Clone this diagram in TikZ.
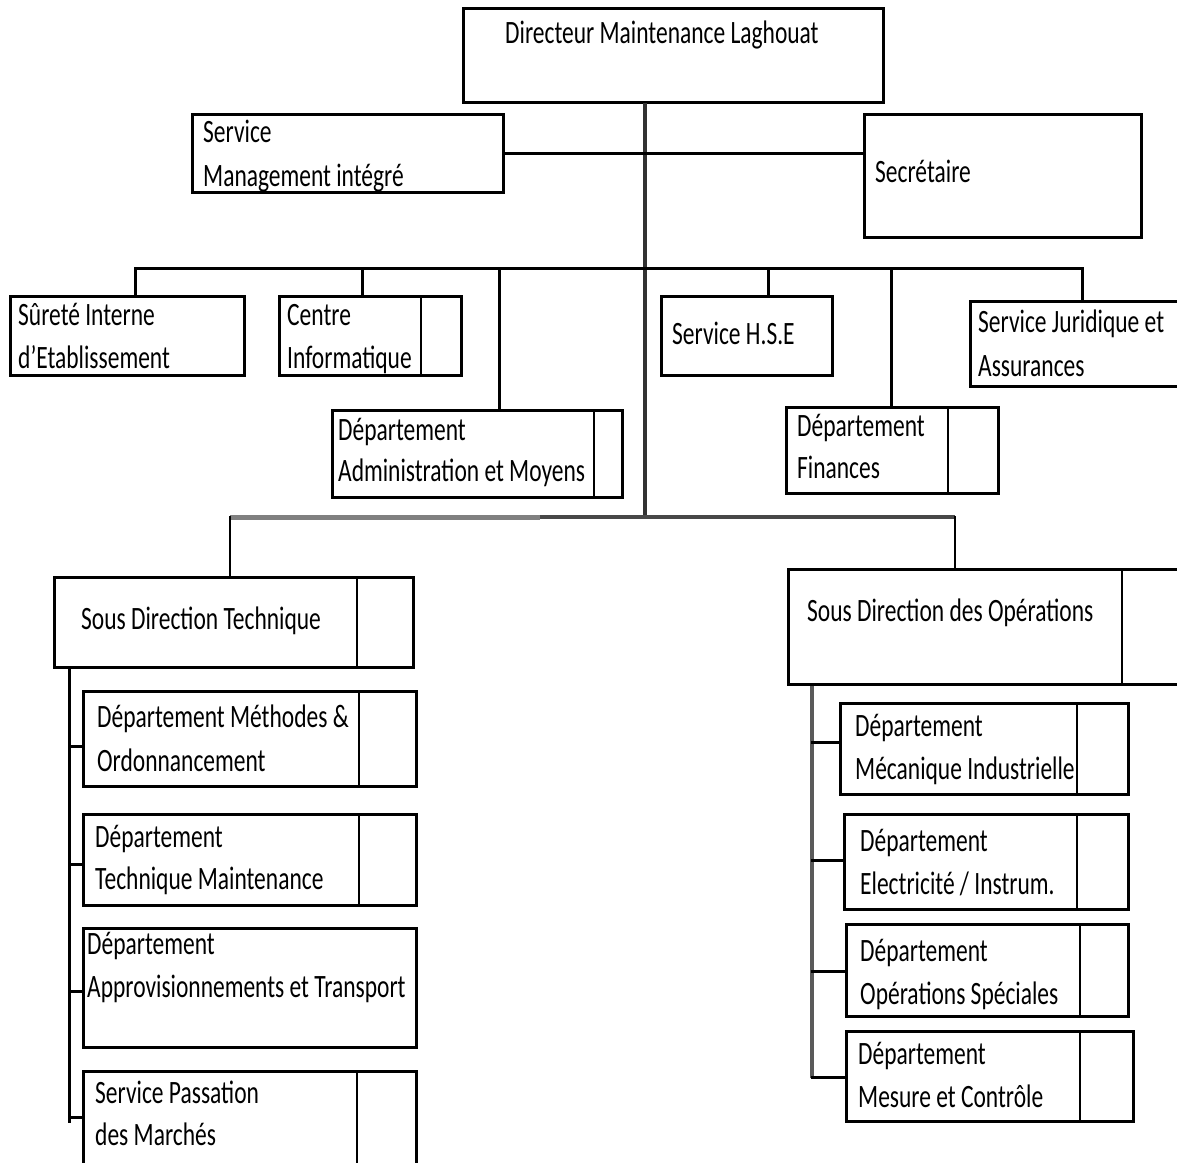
\documentclass[tikz,border=0pt]{standalone}
\usepackage{fontspec}
\setmainfont{Carlito}[FakeStretch=0.72]
\definecolor{trunkc}{RGB}{50,50,50}
\definecolor{busgray}{RGB}{128,128,128}
\definecolor{busdark}{RGB}{72,72,72}
\definecolor{spinec}{RGB}{90,90,90}
\tikzset{
  box/.style={draw, line width=3.2pt, rectangle, inner sep=0pt, anchor=north west},
  lbl/.style={anchor=base west, inner sep=0pt, font=\fontsize{32.6}{44}\selectfont},
  conn/.style={line width=3pt, line cap=rect},
  divline/.style={line width=2.6pt},
}
\begin{document}
\begin{tikzpicture}[x=1pt,y=-1pt]
\useasboundingbox[fill=white] (0,0) rectangle (1177,1162);

% boxes
\node[box, minimum width=420pt, minimum height=94pt] (dir) at (462,7) {};
\node[box, minimum width=311pt, minimum height=78pt] (svc) at (191,113) {};
\node[box, minimum width=277pt, minimum height=123pt] (sec) at (863,113) {};
\node[box, minimum width=234pt, minimum height=79pt] (sur) at (9,295) {};
\node[box, minimum width=182pt, minimum height=79pt] (cen) at (278,295) {};
\node[box, minimum width=290pt, minimum height=87pt] (adm) at (331,409) {};
\node[box, minimum width=171pt, minimum height=79pt] (hse) at (660,295) {};
\node[box, minimum width=212pt, minimum height=86pt] (fin) at (785,406) {};
\node[box, minimum width=240pt, minimum height=85pt] (jur) at (969,300) {};
\node[box, minimum width=359pt, minimum height=90pt] (sdt) at (53,576) {};
\node[box, minimum width=420pt, minimum height=115pt] (sdo) at (787,568) {};
\node[box, minimum width=333pt, minimum height=95pt] (met) at (82,690) {};
\node[box, minimum width=333pt, minimum height=91pt] (tec) at (82,813) {};
\node[box, minimum width=333pt, minimum height=119pt] (app) at (82,927) {};
\node[box, minimum width=333pt, minimum height=130pt] (pas) at (82,1070) {};
\node[box, minimum width=288pt, minimum height=91pt] (mec) at (839,702) {};
\node[box, minimum width=284pt, minimum height=95pt] (ele) at (843,813) {};
\node[box, minimum width=282pt, minimum height=92pt] (ope) at (845,923) {};
\node[box, minimum width=287pt, minimum height=90pt] (mes) at (845,1030) {};

% dividers
\foreach \b/\o in {cen/143,adm/263,fin/163,sdt/304,sdo/335,met/277,tec/277,pas/275,mec/238,ele/234,ope/235,mes/235}{
  \draw[divline] ([xshift=\o pt]\b.north west) -- ([xshift=\o pt]\b.south west);
}

% texts
\node[lbl] (dirT) at (505,43) {Directeur Maintenance Laghouat};
\node[lbl] (svcA) at (203,142) {Service};
\node[lbl] (svcB) at (203,186) {Management intégré};
\node[lbl] (secT) at (875,182) {Secrétaire};
\node[lbl] (surA) at (18,325) {Sûreté Interne};
\node[lbl] (surB) at (18,368) {d’Etablissement};
\node[lbl] (cenA) at (287,325) {Centre};
\node[lbl] (cenB) at (287,368) {Informatique};
\node[lbl] (admA) at (338,440) {Département};
\node[lbl] (admB) at (338,481) {Administration et Moyens};
\node[lbl] (hseT) at (672,344) {Service H.S.E};
\node[lbl] (finA) at (797,436) {Département};
\node[lbl] (finB) at (797,478) {Finances};
\node[lbl] (jurA) at (978,332) {Service Juridique et};
\node[lbl] (jurB) at (978,376) {Assurances};
\node[lbl] (sdtT) at (81,629) {Sous Direction Technique};
\node[lbl] (sdoT) at (807,621) {Sous Direction des Opérations};
\node[lbl] (metA) at (97,727) {Département Méthodes \&};
\node[lbl] (metB) at (97,771) {Ordonnancement};
\node[lbl] (tecA) at (95,847) {Département};
\node[lbl] (tecB) at (95,889) {Technique Maintenance};
\node[lbl] (appA) at (87,954) {Département};
\node[lbl] (appB) at (87,997) {Approvisionnements et Transport};
\node[lbl] (pasA) at (95,1103) {Service Passation};
\node[lbl] (pasB) at (95,1145) {des Marchés};
\node[lbl] (mecA) at (855,736) {Département};
\node[lbl] (mecB) at (855,779) {Mécanique Industrielle};
\node[lbl] (eleA) at (860,851) {Département};
\node[lbl] (eleB) at (860,894) {Electricité / Instrum.};
\node[lbl] (opeA) at (860,961) {Département};
\node[lbl] (opeB) at (860,1004) {Opérations Spéciales};
\node[lbl] (mesA) at (858,1064) {Département};
\node[lbl] (mesB) at (858,1107) {Mesure et Contrôle};

% junction coordinates
\coordinate (j1) at (645,153);
\coordinate (j3) at (645,517);
\coordinate (b1L) at (135,268);
\coordinate (b1R) at (1082,268);
\coordinate (dcen) at (362,268);
\coordinate (dadm) at (499,268);
\coordinate (dhse) at (768,268);
\coordinate (dfin) at (891,268);
\coordinate (b2L) at (230,517);
\coordinate (b2M) at (540,517);
\coordinate (b2R) at (955,517);
\coordinate (ls) at (69,1123);
\coordinate (lb1) at (69,746);
\coordinate (lb2) at (69,864);
\coordinate (lb3) at (69,991);
\coordinate (lb4) at (69,1117);
\coordinate (rs) at (812,1078);
\coordinate (rb1) at (812,742);
\coordinate (rb2) at (812,860);
\coordinate (rb3) at (812,971);
\coordinate (rb4) at (812,1077);

% connectors
\draw[conn, trunkc, line width=3.4pt] (dir.south -| j1) -- (j3);
\draw[conn] (svc.east |- j1) -- (sec.west |- j1);
\draw[conn] (b1L) -- (b1R);
\draw[conn] (b1L) -- (b1L |- sur.north);
\draw[conn] (dcen) -- (dcen |- cen.north);
\draw[conn] (dadm) -- (dadm |- adm.north);
\draw[conn] (dhse) -- (dhse |- hse.north);
\draw[conn] (dfin) -- (dfin |- fin.north);
\draw[conn] (b1R) -- (b1R |- jur.north);
\draw[conn, busgray, line width=5pt, line cap=butt] (b2L) -- (b2M);
\draw[conn, busdark, line width=4pt, line cap=butt] (b2M) -- (b2R);
\draw[conn, line width=2.6pt] (b2L) -- (b2L |- sdt.north);
\draw[conn, line width=2.6pt] (b2R) -- (b2R |- sdo.north);
\draw[conn, line cap=butt] (sdt.south -| ls) -- (ls);
\draw[conn] (lb1) -- (lb1 -| met.west);
\draw[conn] (lb2) -- (lb2 -| tec.west);
\draw[conn] (lb3) -- (lb3 -| app.west);
\draw[conn] (lb4) -- (lb4 -| pas.west);
\draw[conn, spinec, line width=3.6pt, line cap=butt] (sdo.south -| rs) -- (rs);
\draw[conn] (rb1) -- (rb1 -| mec.west);
\draw[conn] (rb2) -- (rb2 -| ele.west);
\draw[conn] (rb3) -- (rb3 -| ope.west);
\draw[conn] (rb4) -- (rb4 -| mes.west);
\end{tikzpicture}
\end{document}
